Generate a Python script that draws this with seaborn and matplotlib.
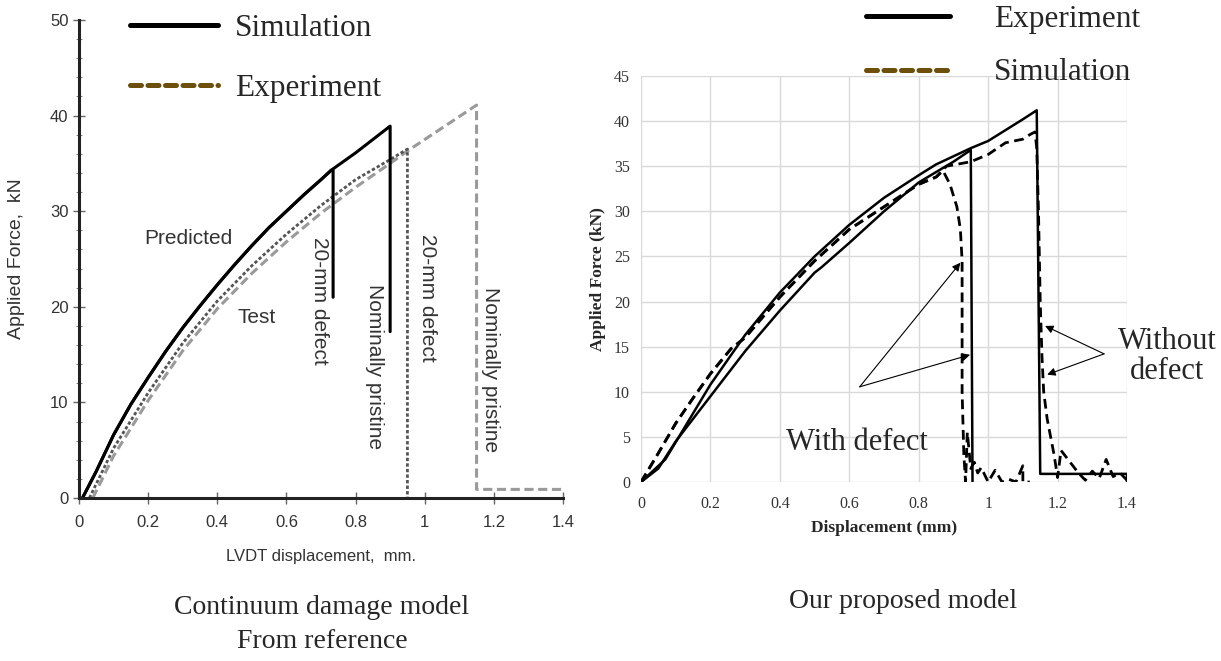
import matplotlib
matplotlib.use("Agg")
import matplotlib.pyplot as plt
import pandas as pd
import seaborn as sns
from matplotlib.lines import Line2D

# ───────────── data: left panel (continuum damage model, from reference) ─────────────
pred_base_x = [0.01, 0.05, 0.10, 0.15, 0.20, 0.25, 0.30, 0.35, 0.40, 0.45, 0.50,
               0.55, 0.60, 0.65, 0.70, 0.73]
pred_base_y = [0.0, 2.8, 6.6, 9.8, 12.6, 15.3, 17.8, 20.1, 22.3, 24.4, 26.4,
               28.3, 30.0, 31.7, 33.3, 34.3]
pred_defect_x = pred_base_x + [0.735, 0.735]
pred_defect_y = pred_base_y + [34.3, 21.0]
pred_pristine_x = pred_base_x + [0.80, 0.85, 0.90, 0.90]
pred_pristine_y = pred_base_y + [36.1, 37.5, 38.9, 17.4]

test_defect_x = [0.03, 0.10, 0.20, 0.30, 0.40, 0.50, 0.60, 0.70, 0.80, 0.90, 0.95, 0.95]
test_defect_y = [0.0, 5.2, 11.0, 16.2, 20.6, 24.3, 27.6, 30.6, 33.3, 35.4, 36.5, 0.0]
test_pristine_x = [0.04, 0.10, 0.20, 0.30, 0.40, 0.50, 0.60, 0.70, 0.80, 0.90,
                   0.95, 1.05, 1.15, 1.15, 1.40]
test_pristine_y = [0.0, 4.4, 10.2, 15.4, 19.8, 23.5, 26.8, 29.8, 32.5, 35.0,
                   36.3, 38.7, 41.1, 0.9, 0.9]

# ───────────── data: right panel (proposed model) ─────────────
exp_nodef_x = [0.0, 0.07, 0.20, 0.30, 0.40, 0.50, 0.60, 0.70, 0.80, 0.85, 0.95,
               1.00, 1.05, 1.10, 1.14, 1.15, 1.40, 1.40]
exp_nodef_y = [0.0, 2.5, 10.8, 16.3, 21.0, 25.0, 28.5, 31.5, 34.0, 35.2, 37.0,
               37.8, 39.0, 40.2, 41.2, 0.9, 0.9, 0.0]
exp_def_x = [0.0, 0.05, 0.10, 0.20, 0.30, 0.40, 0.50, 0.52, 0.60, 0.70, 0.80,
             0.90, 0.95, 0.955]
exp_def_y = [0.0, 1.5, 4.5, 9.5, 14.5, 19.0, 23.2, 23.8, 26.5, 30.0, 33.2,
             35.5, 36.8, 0.0]

sim_base_x = [0.0, 0.05, 0.10, 0.15, 0.20, 0.26, 0.30, 0.40, 0.50, 0.60, 0.70, 0.80, 0.85]
sim_base_y = [0.0, 3.2, 6.5, 9.3, 12.0, 14.8, 16.0, 20.5, 24.5, 28.0, 30.5, 33.0, 33.8]
sim_def_x = sim_base_x + [0.87, 0.89, 0.91, 0.92, 0.925, 0.925, 0.93, 0.935, 0.94,
                          0.95, 0.96, 0.97, 0.98, 1.00, 1.02, 1.04, 1.06, 1.08,
                          1.10, 1.10, 1.12]
sim_def_y = sim_base_y + [34.5, 33.0, 30.5, 28.0, 24.5, 10.0, 3.0, 0.0, 5.5,
                          1.5, 2.2, 1.0, 1.6, 0.0, 1.3, 0.0, 0.3, 0.0,
                          1.8, 0.0, 0.0]
sim_nodef_x = sim_base_x + [0.88, 0.95, 1.00, 1.05, 1.10, 1.12, 1.135, 1.14, 1.145,
                            1.15, 1.155, 1.16, 1.17, 1.18, 1.19, 1.20, 1.21, 1.22,
                            1.24, 1.26, 1.28, 1.30, 1.32, 1.34, 1.36, 1.38, 1.40]
sim_nodef_y = sim_base_y + [35.0, 35.5, 36.3, 37.6, 38.0, 38.5, 38.8, 37.0, 30.0,
                            20.0, 14.0, 10.0, 7.0, 5.0, 3.0, 0.5, 3.5, 3.0,
                            2.0, 1.0, 0.2, 1.2, 0.4, 2.5, 0.6, 1.0, 0.2]

BROWN = "#6b4f0a"
SERIF = "Liberation Serif"
SANS = "Liberation Sans"


def _frame(curves: dict) -> pd.DataFrame:
    rows = []
    for name, (xs, ys) in curves.items():
        rows += [{"curve": name, "x": x, "y": y} for x, y in zip(xs, ys)]
    return pd.DataFrame(rows)


def _draw(ax, df: pd.DataFrame, styles: dict) -> None:
    for name, sub in df.groupby("curve", sort=False):
        sns.lineplot(data=sub, x="x", y="y", sort=False, estimator=None, ax=ax, **styles[name])


sns.set_theme(style="white")
plt.rcParams["font.family"] = [SERIF, "DejaVu Sans"]

fig = plt.figure(figsize=(12.21, 6.61), dpi=100)
ax1 = fig.add_axes([79 / 1221, 1 - 498 / 661, 484 / 1221, 478 / 661])
ax2 = fig.add_axes([641 / 1221, 1 - 482 / 661, 486 / 1221, 406 / 661])

# ── left panel ──
left = _frame({
    "test_pristine": (test_pristine_x, test_pristine_y),
    "test_defect": (test_defect_x, test_defect_y),
    "pred_defect": (pred_defect_x, pred_defect_y),
    "pred_pristine": (pred_pristine_x, pred_pristine_y),
})
_draw(ax1, left, {
    "test_pristine": dict(color="#9a9a9a", linewidth=2.2, linestyle=(0, (3, 1.5))),
    "test_defect": dict(color="#555555", linewidth=2.0, linestyle=(0, (1.2, 0.8))),
    "pred_defect": dict(color="black", linewidth=2.2),
    "pred_pristine": dict(color="black", linewidth=2.2),
})
ax1.set_xlim(0, 1.4)
ax1.set_ylim(0, 50)
ax1.set_xticks([0, 0.2, 0.4, 0.6, 0.8, 1.0, 1.2, 1.4])
ax1.set_xticklabels(["0", "0.2", "0.4", "0.6", "0.8", "1", "1.2", "1.4"])
ax1.set_yticks(range(0, 51, 10))
ax1.set_yticks(range(0, 51, 2), minor=True)
for side in ("top", "right"):
    ax1.spines[side].set_visible(False)
for side in ("left", "bottom"):
    ax1.spines[side].set_linewidth(2.2)
    ax1.spines[side].set_color("#222222")
ax1.tick_params(which="major", direction="inout", length=8, width=1, color="#666666",
                labelsize=12, labelcolor="#333333", left=True, bottom=True)
ax1.tick_params(which="major", axis="x", pad=8)
ax1.tick_params(which="minor", axis="y", direction="inout", length=4, width=0.8,
                color="#888888", left=True)
for lbl in ax1.get_xticklabels() + ax1.get_yticklabels():
    lbl.set_fontfamily(SANS)
ax1.set_xlabel("LVDT displacement,  mm.", fontsize=12, fontfamily=SANS, color="#333333", labelpad=14)
ax1.set_ylabel("Applied Force,  kN", fontsize=14, fontfamily=SANS, color="#333333", labelpad=18)

note = dict(fontsize=15, fontfamily=SANS, color="#333333", ha="center", va="center")
ax1.text(0.315, 27.1, "Predicted", **note)
ax1.text(0.515, 18.9, "Test", **note)
ax1.text(0.697, 20.6, "20-mm defect", rotation=270, **note)
ax1.text(0.856, 13.7, "Nominally pristine", rotation=270, **note)
ax1.text(1.007, 20.9, "20-mm defect", rotation=270, **note)
ax1.text(1.189, 13.4, "Nominally pristine", rotation=270, **note)

leg_font = {"family": SERIF, "size": 22.5}
h_solid = Line2D([], [], color="black", linewidth=3.6, solid_capstyle="round")
h_dash = Line2D([], [], color=BROWN, linewidth=3.6, linestyle=(0, (2.2, 1.3)), dash_capstyle="round")
ax1.legend([h_solid, h_dash], ["Simulation", "Experiment"], loc="center left",
           bbox_to_anchor=(130 / 1221, 1 - 58.5 / 661), bbox_transform=fig.transFigure,
           frameon=False, prop=leg_font, handlelength=2.8, handletextpad=0.55,
           labelspacing=1.0, borderpad=0, borderaxespad=0)

# ── right panel ──
right = _frame({
    "exp_def": (exp_def_x, exp_def_y),
    "exp_nodef": (exp_nodef_x, exp_nodef_y),
    "sim_def": (sim_def_x, sim_def_y),
    "sim_nodef": (sim_nodef_x, sim_nodef_y),
})
_draw(ax2, right, {
    "exp_def": dict(color="black", linewidth=1.8),
    "exp_nodef": dict(color="black", linewidth=1.8),
    "sim_def": dict(color="black", linewidth=2.0, linestyle=(0, (3.5, 2))),
    "sim_nodef": dict(color="black", linewidth=2.0, linestyle=(0, (3.5, 2))),
})
ax2.set_xlim(0, 1.4)
ax2.set_ylim(0, 45)
ax2.set_xticks([0, 0.2, 0.4, 0.6, 0.8, 1.0, 1.2, 1.4])
ax2.set_xticklabels(["0", "0.2", "0.4", "0.6", "0.8", "1", "1.2", "1.4"])
ax2.set_yticks(range(0, 46, 5))
ax2.grid(True, color="#d9d9d9", linewidth=1.0)
ax2.set_axisbelow(True)
for side in ax2.spines:
    ax2.spines[side].set_visible(False)
ax2.tick_params(length=0, labelsize=11.5, labelcolor="#333333", pad=8)
ax2.tick_params(axis="x", pad=10)
ax2.set_xlabel("Displacement (mm)", fontsize=12.5, fontweight="bold", fontfamily=SERIF, labelpad=6)
ax2.set_ylabel("Applied Force (kN)", fontsize=12.5, fontweight="bold", fontfamily=SERIF, labelpad=6)

arrow = dict(arrowstyle="-|>", color="black", linewidth=0.8, mutation_scale=12, shrinkA=0, shrinkB=0)
for head in [(0.92, 24.3), (0.948, 14.1)]:
    ax2.annotate("", xy=head, xytext=(0.63, 10.55), arrowprops=arrow, annotation_clip=False)
for head in [(1.164, 17.3), (1.17, 11.9)]:
    ax2.annotate("", xy=head, xytext=(1.334, 14.2), arrowprops=arrow, annotation_clip=False)
ax2.text(0.622, 4.4, "With defect", fontsize=22, fontfamily=SERIF, ha="center", va="center")
ax2.text(1.515, 13.9, "Without\ndefect", fontsize=22, fontfamily=SERIF, ha="center", va="center",
         linespacing=1.05, clip_on=False)

h_solid2 = Line2D([], [], color="black", linewidth=3.6, solid_capstyle="round")
h_dash2 = Line2D([], [], color=BROWN, linewidth=3.6, linestyle=(0, (2.2, 1.3)), dash_capstyle="round")
ax2.legend([h_solid2, h_dash2], ["Experiment", "Simulation"], loc="center left",
           bbox_to_anchor=(866 / 1221, 1 - 46 / 661), bbox_transform=fig.transFigure,
           frameon=False, prop=leg_font, handlelength=2.7, handletextpad=1.4,
           labelspacing=0.8, borderpad=0, borderaxespad=0)

# ── captions ──
cap = dict(fontsize=20, fontfamily=SERIF, ha="center", va="center")
fig.text(322 / 1221, 1 - 607 / 661, "Continuum damage model", **cap)
fig.text(322 / 1221, 1 - 641 / 661, "From reference", **cap)
fig.text(903 / 1221, 1 - 602 / 661, "Our proposed model", **cap)

fig.savefig("out.png", dpi=100)
